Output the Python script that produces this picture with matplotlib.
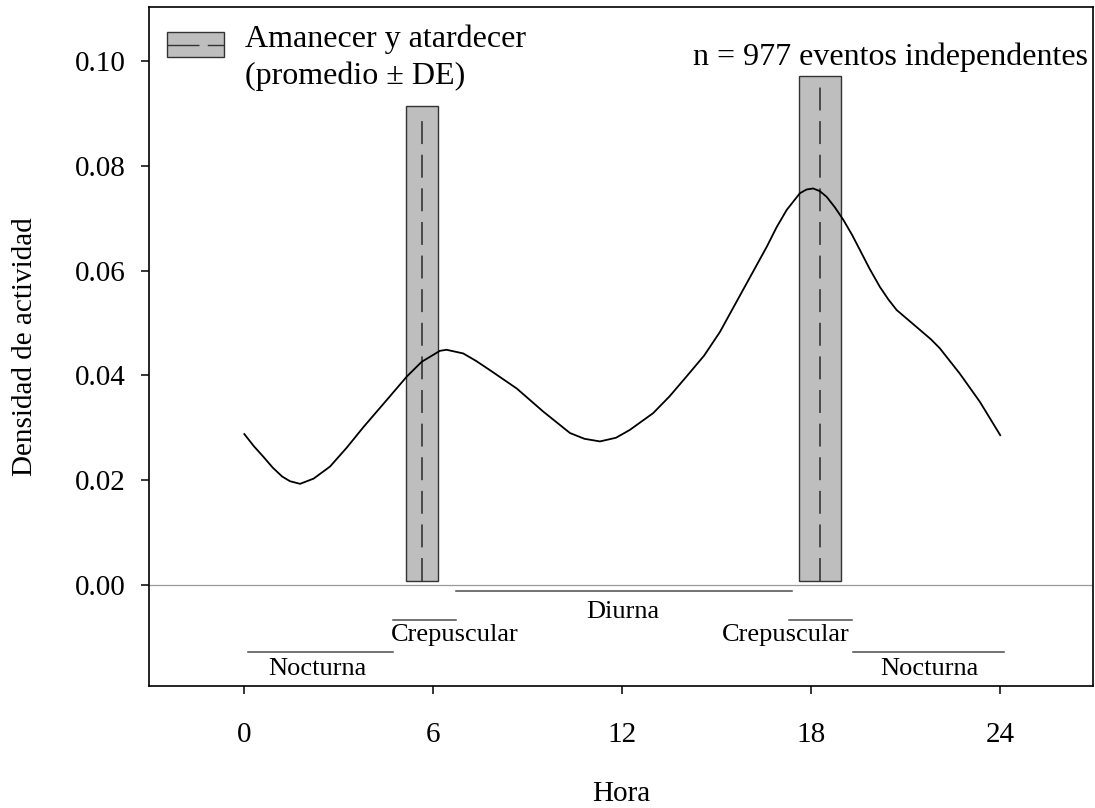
import matplotlib.pyplot as plt
from matplotlib.patches import Rectangle

plt.rcParams['font.family'] = ['Liberation Serif', 'DejaVu Serif']

# kernel density of activity
hours = [0.0, 0.3, 0.6, 0.9, 1.2, 1.45, 1.77, 2.2, 2.72, 3.25, 3.79, 4.52,
         5.16, 5.63, 6.21, 6.42, 6.95, 7.35, 7.80, 8.65, 9.49, 10.34, 10.8,
         11.29, 11.8, 12.24, 12.98, 13.5, 14.04, 14.6, 15.10, 15.95, 16.59,
         16.9, 17.22, 17.64, 17.85, 18.06, 18.27, 18.49, 18.75, 19.02, 19.3,
         19.55, 19.85, 20.18, 20.45, 20.71, 21.1, 21.45, 21.8, 22.08, 22.71,
         23.35, 24.0]
density = [0.0288, 0.0265, 0.0245, 0.0224, 0.0207, 0.0198, 0.0193, 0.0203,
           0.0226, 0.0262, 0.0302, 0.0353, 0.0398, 0.0426, 0.0447, 0.0449,
           0.0442, 0.0428, 0.0410, 0.0375, 0.0331, 0.0290, 0.0279, 0.0274,
           0.0281, 0.0296, 0.0328, 0.0360, 0.0398, 0.0438, 0.0483, 0.0576,
           0.0646, 0.0683, 0.0716, 0.0748, 0.0755, 0.0757, 0.0752, 0.0741,
           0.0721, 0.0697, 0.0668, 0.0639, 0.0604, 0.0569, 0.0545, 0.0525,
           0.0505, 0.0487, 0.0469, 0.0452, 0.0404, 0.0350, 0.0286]

# sunrise / sunset (mean +- sd)
twilight_mean = [5.65, 18.28]
twilight_sd = [0.51, 0.66]
twilight_top = [0.0914, 0.0971]

# activity periods drawn under the zero line
period_names = ["Nocturna", "Crepuscular", "Diurna", "Crepuscular", "Nocturna"]
period_start = [0.13, 4.71, 6.72, 17.30, 19.31]
period_end = [4.73, 6.72, 17.38, 19.28, 24.12]
period_row = [2, 1, 0, 1, 2]
period_label_x = [2.33, 6.69, 12.0, 17.2, 21.75]

xticks = [0, 6, 12, 18, 24]
yticks = [0.00, 0.02, 0.04, 0.06, 0.08, 0.10]

fig = plt.figure(figsize=(10.95, 8.08), dpi=100)
ax = fig.add_axes([0.136, 0.151, 0.862, 0.840])

ax.axhline(0, color="#9a9a9a", lw=0.9, zorder=1)

bar_bottom = 0.0008
for m, s, top in zip(twilight_mean, twilight_sd, twilight_top):
    ax.add_patch(Rectangle((m - s, bar_bottom), 2 * s, top - bar_bottom,
                           facecolor="#bebebe", edgecolor="#333333", lw=1.0, zorder=2))
    ax.vlines(m, bar_bottom, top - 0.001, colors="#2a2a2a", lw=1.1,
              linestyles=(0, (15, 7)), zorder=3)

ax.plot(hours, density, color="black", lw=1.3, zorder=4)

row_line_y = [-0.00115, -0.00668, -0.01288]
row_text_y = [-0.0063, -0.01068, -0.01717]
for name, a, b, r, lx in zip(period_names, period_start, period_end, period_row, period_label_x):
    ax.plot([a, b], [row_line_y[r], row_line_y[r]], color="#4a4a4a", lw=1.1, zorder=2)
    ax.text(lx, row_text_y[r], name, ha="center", va="baseline", fontsize=19)

# legend drawn by hand
ax.add_patch(Rectangle((0.0191, 0.9264), 0.0604, 0.0368, transform=ax.transAxes,
                       facecolor="#bebebe", edgecolor="#333333", lw=1.0))
ax.plot([0.0191, 0.0795], [0.9448, 0.9448], transform=ax.transAxes,
        color="#333333", lw=1.0, linestyle=(0, (23, 6)))
ax.text(0.1017, 0.9410, "Amanecer y atardecer", transform=ax.transAxes,
        ha="left", va="baseline", fontsize=23)
ax.text(0.1017, 0.8870, "(promedio \u00b1 DE)", transform=ax.transAxes,
        ha="left", va="baseline", fontsize=23)

ax.text(0.9947, 0.9146, "n = 977 eventos independentes", transform=ax.transAxes,
        ha="right", va="baseline", fontsize=23)

ax.set_xlim(-3.03, 26.94)
ax.set_ylim(-0.0193, 0.1103)
ax.set_xticks(xticks)
ax.set_yticks(yticks)
ax.set_yticklabels(["%.2f" % v for v in yticks])
ax.tick_params(axis="both", direction="out", length=6, width=1.1, labelsize=21)
ax.tick_params(axis="x", pad=20)
ax.tick_params(axis="y", pad=11)
for sp in ax.spines.values():
    sp.set_linewidth(1.2)

ax.set_xlabel("Hora", fontsize=21, labelpad=24)
ax.set_ylabel("Densidad de actividad", fontsize=21, labelpad=26)

fig.savefig("out.png", dpi=100)
